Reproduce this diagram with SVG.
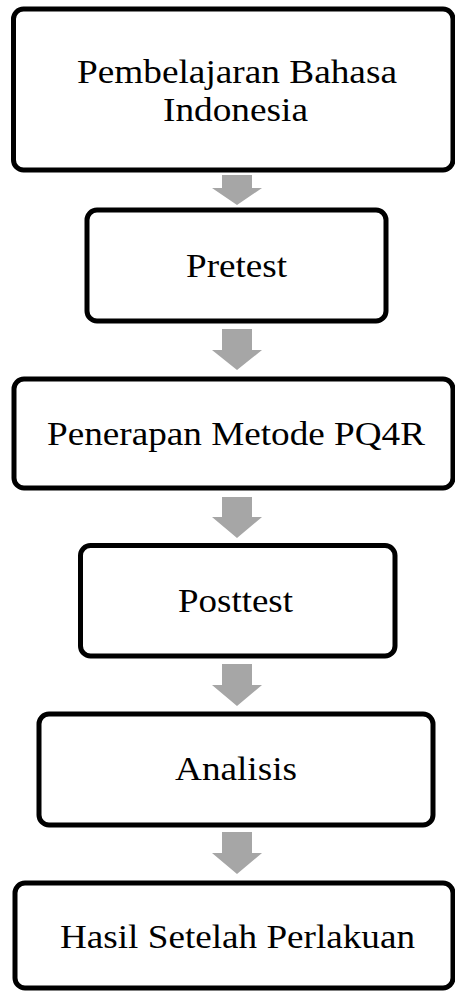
<svg xmlns="http://www.w3.org/2000/svg" width="455" height="991" viewBox="0 0 455 991">
<style>
.box{fill:#fff;stroke:#000;stroke-width:5}
.lbl{font-family:'Liberation Serif',Tinos,'Times New Roman',Times,serif;font-size:34px;fill:#000;text-anchor:middle}
.arr{fill:#a6a6a6}
</style>
<rect width="455" height="991" fill="#fff"/>
<g id="connectors">
<polygon class="arr" points="222,175 252,175 252,188 262,188 237,205 212,188 222,188"/>
<polygon class="arr" points="222,329 252,329 252,350 262,350 237,370 212,350 222,350"/>
<polygon class="arr" points="222,497 252,497 252,517 262,517 237,538 212,517 222,517"/>
<polygon class="arr" points="222,664 252,664 252,685 262,685 237,706 212,685 222,685"/>
<polygon class="arr" points="222,832 252,832 252,853 262,853 237,874 212,853 222,853"/>
</g>
<g id="n1">
<rect class="box" x="13.5" y="9" width="439.5" height="161" rx="10"/>
<text class="lbl" x="237" y="83" textLength="320" lengthAdjust="spacingAndGlyphs">Pembelajaran Bahasa</text>
<text class="lbl" x="235.5" y="121" textLength="145" lengthAdjust="spacingAndGlyphs">Indonesia</text>
</g>
<g id="n2">
<rect class="box" x="87" y="210" width="299" height="111" rx="10"/>
<text class="lbl" x="236.5" y="277" textLength="101" lengthAdjust="spacingAndGlyphs">Pretest</text>
</g>
<g id="n3">
<rect class="box" x="14" y="379" width="439" height="109" rx="10"/>
<text class="lbl" x="236" y="445" textLength="378" lengthAdjust="spacingAndGlyphs">Penerapan Metode PQ4R</text>
</g>
<g id="n4">
<rect class="box" x="80.5" y="545.5" width="314.5" height="110.5" rx="10"/>
<text class="lbl" x="235.5" y="612" textLength="115" lengthAdjust="spacingAndGlyphs">Posttest</text>
</g>
<g id="n5">
<rect class="box" x="39" y="714" width="394" height="111" rx="10"/>
<text class="lbl" x="236" y="780" textLength="122" lengthAdjust="spacingAndGlyphs">Analisis</text>
</g>
<g id="n6">
<rect class="box" x="15" y="883" width="438" height="105" rx="10"/>
<text class="lbl" x="237.5" y="948" textLength="355" lengthAdjust="spacingAndGlyphs">Hasil Setelah Perlakuan</text>
</g>
</svg>
